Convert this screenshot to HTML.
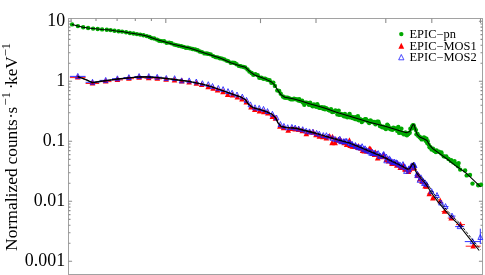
<!DOCTYPE html>
<html><head><meta charset="utf-8"><title>EPIC spectra</title>
<style>html,body{margin:0;padding:0;background:#fff;}body{width:485px;height:275px;overflow:hidden;font-family:"Liberation Serif",serif;}svg{display:block}</style>
</head><body>
<svg width="485" height="275" viewBox="0 0 485 275">
<defs><filter id="b" x="0" y="0" width="485" height="275" filterUnits="userSpaceOnUse"><feGaussianBlur stdDeviation="0.4"/></filter></defs>
<rect width="485" height="275" fill="#fff"/>
<g filter="url(#b)">
<g stroke="#a2a2a2" stroke-width="1" fill="none" shape-rendering="crispEdges">
<path d="M68.5,275 V18.5 H482.5 V275 M68.5,274.5 H482.5"/>
</g>
<g stroke="#8c8c8c" stroke-width="1.1" fill="none">
<path d="M68.5,261.3 h3.6 M482.5,261.3 h-3.6"/>
<path d="M68.5,243.2 h2 M482.5,243.2 h-2"/>
<path d="M68.5,232.7 h2 M482.5,232.7 h-2"/>
<path d="M68.5,225.2 h2 M482.5,225.2 h-2"/>
<path d="M68.5,219.4 h2 M482.5,219.4 h-2"/>
<path d="M68.5,214.6 h2 M482.5,214.6 h-2"/>
<path d="M68.5,210.6 h2 M482.5,210.6 h-2"/>
<path d="M68.5,207.1 h2 M482.5,207.1 h-2"/>
<path d="M68.5,204.0 h2 M482.5,204.0 h-2"/>
<path d="M68.5,201.3 h3.6 M482.5,201.3 h-3.6"/>
<path d="M68.5,183.2 h2 M482.5,183.2 h-2"/>
<path d="M68.5,172.7 h2 M482.5,172.7 h-2"/>
<path d="M68.5,165.2 h2 M482.5,165.2 h-2"/>
<path d="M68.5,159.4 h2 M482.5,159.4 h-2"/>
<path d="M68.5,154.6 h2 M482.5,154.6 h-2"/>
<path d="M68.5,150.6 h2 M482.5,150.6 h-2"/>
<path d="M68.5,147.1 h2 M482.5,147.1 h-2"/>
<path d="M68.5,144.0 h2 M482.5,144.0 h-2"/>
<path d="M68.5,141.3 h3.6 M482.5,141.3 h-3.6"/>
<path d="M68.5,123.2 h2 M482.5,123.2 h-2"/>
<path d="M68.5,112.7 h2 M482.5,112.7 h-2"/>
<path d="M68.5,105.2 h2 M482.5,105.2 h-2"/>
<path d="M68.5,99.4 h2 M482.5,99.4 h-2"/>
<path d="M68.5,94.6 h2 M482.5,94.6 h-2"/>
<path d="M68.5,90.6 h2 M482.5,90.6 h-2"/>
<path d="M68.5,87.1 h2 M482.5,87.1 h-2"/>
<path d="M68.5,84.0 h2 M482.5,84.0 h-2"/>
<path d="M68.5,81.3 h3.6 M482.5,81.3 h-3.6"/>
<path d="M68.5,63.2 h2 M482.5,63.2 h-2"/>
<path d="M68.5,52.7 h2 M482.5,52.7 h-2"/>
<path d="M68.5,45.2 h2 M482.5,45.2 h-2"/>
<path d="M68.5,39.4 h2 M482.5,39.4 h-2"/>
<path d="M68.5,34.6 h2 M482.5,34.6 h-2"/>
<path d="M68.5,30.6 h2 M482.5,30.6 h-2"/>
<path d="M68.5,27.1 h2 M482.5,27.1 h-2"/>
<path d="M68.5,24.0 h2 M482.5,24.0 h-2"/>
<path d="M68.5,21.3 h3.6 M482.5,21.3 h-3.6"/>
<path d="M71.1,18.5 v2.5"/>
<path d="M96.0,18.5 v2.5"/>
<path d="M117.1,18.5 v2.5"/>
<path d="M135.3,18.5 v2.5"/>
<path d="M151.4,18.5 v2.5"/>
<path d="M165.8,18.5 v4.6"/>
<path d="M260.5,18.5 v4.6"/>
<path d="M316.0,18.5 v4.6"/>
<path d="M385.8,18.5 v4.6"/>
<path d="M431.8,18.5 v4.6"/>
<path d="M480.5,18.5 v4.6"/>
</g>
<g font-family="Liberation Serif, serif" font-size="17.9" fill="#000" text-anchor="end">
<text x="65.1" y="26.4">10</text>
<text x="65.1" y="86.4">1</text>
<text x="65.1" y="146.4">0.1</text>
<text x="65.1" y="206.4">0.01</text>
<text x="65.1" y="266.4">0.001</text>
</g>
<g transform="translate(17,250.7) rotate(-90)" font-family="Liberation Serif, serif" font-size="17.3" fill="#000">
<text x="-0.2" y="0" font-size="17.5">Normalized</text>
<text x="86.3" y="0">counts</text>
<text x="131.9" y="0">·</text>
<text x="137.3" y="0">s</text>
<text x="145.3" y="-7.3" font-size="12.5">−1</text>
<text x="161.4" y="0">·</text>
<text x="165.7" y="0">keV</text>
<text x="194.5" y="-7.3" font-size="12.5">−1</text>
</g>
<g font-family="Liberation Serif, serif" font-size="11.6" fill="#000">
<text transform="translate(409.5,37.7) scale(1.075,1)">EPIC−pn</text>
<text transform="translate(409.5,49.5) scale(1.075,1)">EPIC−MOS1</text>
<text transform="translate(409.5,61.1) scale(1.075,1)">EPIC−MOS2</text>
</g>
<circle cx="401.3" cy="34.1" r="2.2" fill="#00a800"/>
<path d="M398.4,48.7 L404.2,48.7 L401.3,42.7Z" fill="#ff0000"/>
<path d="M398.7,59.8 L403.9,59.8 L401.3,54.5Z" fill="none" stroke="#1c1cff" stroke-width="0.8"/>
<g fill="#00a800">
<circle cx="72.1" cy="24.4" r="2.2"/>
<circle cx="77.9" cy="26.1" r="2.2"/>
<circle cx="83.2" cy="27.3" r="2.2"/>
<circle cx="88.1" cy="28.0" r="2.2"/>
<circle cx="93.1" cy="28.6" r="2.2"/>
<circle cx="97.7" cy="29.0" r="2.2"/>
<circle cx="102.1" cy="29.4" r="2.2"/>
<circle cx="106.8" cy="29.7" r="2.2"/>
<circle cx="110.6" cy="30.1" r="2.2"/>
<circle cx="114.5" cy="30.7" r="2.2"/>
<circle cx="118.6" cy="31.2" r="2.2"/>
<circle cx="122.1" cy="31.6" r="2.2"/>
<circle cx="126.1" cy="32.2" r="2.2"/>
<circle cx="129.9" cy="33.0" r="2.2"/>
<circle cx="133.5" cy="33.5" r="2.2"/>
<circle cx="136.9" cy="34.1" r="2.2"/>
<circle cx="140.2" cy="34.6" r="2.2"/>
<circle cx="143.5" cy="35.3" r="2.2"/>
<circle cx="146.8" cy="36.1" r="2.2"/>
<circle cx="149.6" cy="37.0" r="2.2"/>
<circle cx="151.7" cy="38.1" r="2.2"/>
<circle cx="154.2" cy="38.5" r="2.2"/>
<circle cx="157.0" cy="39.6" r="2.2"/>
<circle cx="159.2" cy="40.7" r="2.2"/>
<circle cx="161.6" cy="41.1" r="2.2"/>
<circle cx="164.1" cy="41.2" r="2.2"/>
<circle cx="166.6" cy="42.8" r="2.2"/>
<circle cx="169.2" cy="42.6" r="2.2"/>
<circle cx="171.5" cy="43.3" r="2.2"/>
<circle cx="174.2" cy="44.6" r="2.2"/>
<circle cx="176.3" cy="45.1" r="2.2"/>
<circle cx="178.7" cy="45.7" r="2.2"/>
<circle cx="181.3" cy="46.3" r="2.2"/>
<circle cx="183.6" cy="46.9" r="2.2"/>
<circle cx="185.8" cy="47.7" r="2.2"/>
<circle cx="187.9" cy="47.7" r="2.2"/>
<circle cx="190.3" cy="48.4" r="2.2"/>
<circle cx="192.7" cy="49.0" r="2.2"/>
<circle cx="195.2" cy="49.5" r="2.2"/>
<circle cx="197.6" cy="50.3" r="2.2"/>
<circle cx="199.8" cy="51.5" r="2.2"/>
<circle cx="202.0" cy="52.1" r="2.2"/>
<circle cx="204.4" cy="53.4" r="2.2"/>
<circle cx="206.8" cy="53.5" r="2.2"/>
<circle cx="208.5" cy="53.9" r="2.2"/>
<circle cx="210.7" cy="54.4" r="2.2"/>
<circle cx="213.2" cy="56.1" r="2.2"/>
<circle cx="215.5" cy="57.1" r="2.2"/>
<circle cx="217.6" cy="57.4" r="2.2"/>
<circle cx="219.9" cy="58.2" r="2.2"/>
<circle cx="222.0" cy="58.6" r="2.2"/>
<circle cx="224.3" cy="59.4" r="2.2"/>
<circle cx="226.5" cy="60.6" r="2.2"/>
<circle cx="228.1" cy="61.1" r="2.2"/>
<circle cx="230.7" cy="62.8" r="2.2"/>
<circle cx="232.9" cy="62.6" r="2.2"/>
<circle cx="234.7" cy="63.0" r="2.2"/>
<circle cx="236.6" cy="64.3" r="2.2"/>
<circle cx="239.0" cy="65.9" r="2.2"/>
<circle cx="240.8" cy="66.2" r="2.2"/>
<circle cx="243.3" cy="66.9" r="2.2"/>
<circle cx="245.2" cy="67.5" r="2.2"/>
<circle cx="247.5" cy="69.4" r="2.2"/>
<circle cx="249.4" cy="71.6" r="2.2"/>
<circle cx="251.6" cy="73.0" r="2.2"/>
<circle cx="253.3" cy="74.7" r="2.2"/>
<circle cx="255.4" cy="74.3" r="2.2"/>
<circle cx="257.7" cy="75.2" r="2.2"/>
<circle cx="259.3" cy="77.7" r="2.2"/>
<circle cx="261.3" cy="77.7" r="2.2"/>
<circle cx="263.4" cy="78.8" r="2.2"/>
<circle cx="265.1" cy="78.6" r="2.2"/>
<circle cx="267.3" cy="79.7" r="2.2"/>
<circle cx="269.6" cy="80.2" r="2.2"/>
<circle cx="271.4" cy="82.7" r="2.2"/>
<circle cx="273.3" cy="82.6" r="2.2"/>
<circle cx="274.9" cy="85.9" r="2.2"/>
<circle cx="277.3" cy="90.4" r="2.2"/>
<circle cx="279.2" cy="91.0" r="2.2"/>
<circle cx="280.7" cy="93.8" r="2.2"/>
<circle cx="282.9" cy="96.5" r="2.2"/>
<circle cx="284.4" cy="97.5" r="2.2"/>
<circle cx="286.1" cy="97.7" r="2.2"/>
<circle cx="287.7" cy="97.6" r="2.2"/>
<circle cx="289.4" cy="98.5" r="2.2"/>
<circle cx="290.9" cy="99.3" r="2.2"/>
<circle cx="292.9" cy="99.4" r="2.2"/>
<circle cx="294.0" cy="98.6" r="2.2"/>
<circle cx="295.5" cy="99.1" r="2.2"/>
<circle cx="297.1" cy="99.5" r="2.2"/>
<circle cx="298.5" cy="100.6" r="2.2"/>
<circle cx="299.2" cy="99.3" r="2.2"/>
<circle cx="300.5" cy="101.1" r="2.2"/>
<circle cx="302.1" cy="100.7" r="2.2"/>
<circle cx="302.9" cy="102.4" r="2.2"/>
<circle cx="304.3" cy="104.8" r="2.2"/>
<circle cx="305.3" cy="102.8" r="2.2"/>
<circle cx="306.7" cy="102.6" r="2.2"/>
<circle cx="308.1" cy="103.2" r="2.2"/>
<circle cx="308.9" cy="104.8" r="2.2"/>
<circle cx="310.1" cy="102.6" r="2.2"/>
<circle cx="311.4" cy="105.3" r="2.2"/>
<circle cx="312.7" cy="106.3" r="2.2"/>
<circle cx="313.9" cy="104.5" r="2.2"/>
<circle cx="315.2" cy="105.9" r="2.2"/>
<circle cx="316.2" cy="106.7" r="2.2"/>
<circle cx="317.3" cy="104.1" r="2.2"/>
<circle cx="318.2" cy="106.3" r="2.2"/>
<circle cx="319.2" cy="107.8" r="2.2"/>
<circle cx="320.5" cy="107.7" r="2.2"/>
<circle cx="321.9" cy="107.3" r="2.2"/>
<circle cx="323.2" cy="108.7" r="2.2"/>
<circle cx="324.3" cy="107.5" r="2.2"/>
<circle cx="325.0" cy="109.2" r="2.2"/>
<circle cx="326.2" cy="108.2" r="2.2"/>
<circle cx="327.5" cy="109.2" r="2.2"/>
<circle cx="328.8" cy="110.1" r="2.2"/>
<circle cx="329.8" cy="110.5" r="2.2"/>
<circle cx="331.0" cy="109.1" r="2.2"/>
<circle cx="332.2" cy="112.1" r="2.2"/>
<circle cx="333.2" cy="111.9" r="2.2"/>
<circle cx="334.0" cy="111.4" r="2.2"/>
<circle cx="335.4" cy="110.5" r="2.2"/>
<circle cx="336.7" cy="111.2" r="2.2"/>
<circle cx="337.4" cy="114.4" r="2.2"/>
<circle cx="338.7" cy="110.6" r="2.2"/>
<circle cx="339.5" cy="114.9" r="2.2"/>
<circle cx="341.0" cy="114.0" r="2.2"/>
<circle cx="342.0" cy="114.4" r="2.2"/>
<circle cx="343.2" cy="115.6" r="2.2"/>
<circle cx="344.1" cy="116.3" r="2.2"/>
<circle cx="344.9" cy="114.0" r="2.2"/>
<circle cx="345.9" cy="116.4" r="2.2"/>
<circle cx="347.3" cy="117.2" r="2.2"/>
<circle cx="348.6" cy="115.5" r="2.2"/>
<circle cx="349.6" cy="113.9" r="2.2"/>
<circle cx="350.3" cy="117.4" r="2.2"/>
<circle cx="351.4" cy="116.8" r="2.2"/>
<circle cx="352.6" cy="118.1" r="2.2"/>
<circle cx="353.4" cy="117.3" r="2.2"/>
<circle cx="355.0" cy="119.0" r="2.2"/>
<circle cx="355.8" cy="117.2" r="2.2"/>
<circle cx="357.1" cy="119.4" r="2.2"/>
<circle cx="357.9" cy="116.3" r="2.2"/>
<circle cx="358.9" cy="120.3" r="2.2"/>
<circle cx="359.9" cy="119.1" r="2.2"/>
<circle cx="360.8" cy="119.6" r="2.2"/>
<circle cx="361.8" cy="122.1" r="2.2"/>
<circle cx="363.0" cy="120.3" r="2.2"/>
<circle cx="364.0" cy="120.3" r="2.2"/>
<circle cx="365.1" cy="119.3" r="2.2"/>
<circle cx="365.9" cy="119.1" r="2.2"/>
<circle cx="367.2" cy="120.8" r="2.2"/>
<circle cx="368.3" cy="121.8" r="2.2"/>
<circle cx="369.2" cy="123.1" r="2.2"/>
<circle cx="370.5" cy="120.4" r="2.2"/>
<circle cx="371.2" cy="121.9" r="2.2"/>
<circle cx="372.2" cy="121.8" r="2.2"/>
<circle cx="373.3" cy="122.2" r="2.2"/>
<circle cx="374.2" cy="122.0" r="2.2"/>
<circle cx="375.5" cy="124.2" r="2.2"/>
<circle cx="376.5" cy="123.1" r="2.2"/>
<circle cx="377.1" cy="121.8" r="2.2"/>
<circle cx="378.4" cy="121.7" r="2.2"/>
<circle cx="379.0" cy="123.6" r="2.2"/>
<circle cx="379.9" cy="126.0" r="2.2"/>
<circle cx="381.0" cy="126.2" r="2.2"/>
<circle cx="382.3" cy="127.2" r="2.2"/>
<circle cx="383.4" cy="126.6" r="2.2"/>
<circle cx="384.2" cy="127.1" r="2.2"/>
<circle cx="384.9" cy="127.9" r="2.2"/>
<circle cx="385.9" cy="129.0" r="2.2"/>
<circle cx="387.3" cy="124.6" r="2.2"/>
<circle cx="388.3" cy="125.9" r="2.2"/>
<circle cx="389.2" cy="128.3" r="2.2"/>
<circle cx="389.9" cy="128.4" r="2.2"/>
<circle cx="390.8" cy="129.2" r="2.2"/>
<circle cx="392.0" cy="128.7" r="2.2"/>
<circle cx="392.5" cy="129.7" r="2.2"/>
<circle cx="393.4" cy="127.6" r="2.2"/>
<circle cx="394.6" cy="128.7" r="2.2"/>
<circle cx="395.4" cy="128.4" r="2.2"/>
<circle cx="396.9" cy="128.7" r="2.2"/>
<circle cx="397.3" cy="130.9" r="2.2"/>
<circle cx="398.3" cy="127.0" r="2.2"/>
<circle cx="399.2" cy="132.9" r="2.2"/>
<circle cx="400.1" cy="131.5" r="2.2"/>
<circle cx="401.4" cy="128.7" r="2.2"/>
<circle cx="402.0" cy="132.8" r="2.2"/>
<circle cx="403.1" cy="133.5" r="2.2"/>
<circle cx="404.1" cy="134.4" r="2.2"/>
<circle cx="405.1" cy="132.7" r="2.2"/>
<circle cx="405.8" cy="132.8" r="2.2"/>
<circle cx="406.9" cy="135.3" r="2.2"/>
<circle cx="407.9" cy="133.6" r="2.2"/>
<circle cx="408.3" cy="134.1" r="2.2"/>
<circle cx="409.7" cy="132.8" r="2.2"/>
<circle cx="410.4" cy="128.8" r="2.2"/>
<circle cx="411.6" cy="128.4" r="2.2"/>
<circle cx="412.2" cy="126.1" r="2.2"/>
<circle cx="413.0" cy="125.2" r="2.2"/>
<circle cx="413.7" cy="125.4" r="2.2"/>
<circle cx="414.7" cy="128.1" r="2.2"/>
<circle cx="415.9" cy="130.1" r="2.2"/>
<circle cx="416.5" cy="134.2" r="2.2"/>
<circle cx="417.5" cy="134.0" r="2.2"/>
<circle cx="418.2" cy="135.8" r="2.2"/>
<circle cx="419.5" cy="136.7" r="2.2"/>
<circle cx="420.2" cy="137.5" r="2.2"/>
<circle cx="421.3" cy="138.2" r="2.2"/>
<circle cx="421.7" cy="139.4" r="2.2"/>
<circle cx="422.8" cy="139.0" r="2.2"/>
<circle cx="423.9" cy="137.5" r="2.2"/>
<circle cx="424.7" cy="138.0" r="2.2"/>
<circle cx="425.7" cy="140.7" r="2.2"/>
<circle cx="426.4" cy="138.7" r="2.2"/>
<circle cx="427.2" cy="142.9" r="2.2"/>
<circle cx="427.7" cy="141.3" r="2.2"/>
<circle cx="428.6" cy="144.6" r="2.2"/>
<circle cx="429.6" cy="147.2" r="2.2"/>
<circle cx="430.4" cy="147.1" r="2.2"/>
<circle cx="431.6" cy="149.4" r="2.2"/>
<circle cx="432.4" cy="149.4" r="2.2"/>
<circle cx="433.0" cy="148.7" r="2.2"/>
<circle cx="433.9" cy="150.5" r="2.2"/>
<circle cx="434.7" cy="151.0" r="2.2"/>
<circle cx="435.9" cy="152.0" r="2.2"/>
<circle cx="441.4" cy="152.5" r="2.2"/>
<circle cx="446.3" cy="156.5" r="2.2"/>
<circle cx="451.2" cy="160.1" r="2.2"/>
<circle cx="454.5" cy="161.1" r="2.2"/>
<circle cx="458.6" cy="163.1" r="2.2"/>
<circle cx="460.2" cy="169.6" r="2.2"/>
<circle cx="465.1" cy="170.5" r="2.2"/>
<circle cx="466.7" cy="175.4" r="2.2"/>
<circle cx="470.0" cy="174.9" r="2.2"/>
<circle cx="472.5" cy="183.6" r="2.2"/>
<circle cx="478.2" cy="185.2" r="2.2"/>
<circle cx="481.0" cy="184.7" r="2.2"/>
<circle cx="436.5" cy="150.5" r="2.2"/>
<circle cx="438.9" cy="151.7" r="2.2"/>
<circle cx="441.3" cy="153.6" r="2.2"/>
<circle cx="443.7" cy="156.3" r="2.2"/>
<circle cx="446.1" cy="156.9" r="2.2"/>
<circle cx="448.5" cy="159.0" r="2.2"/>
<circle cx="450.9" cy="160.9" r="2.2"/>
<circle cx="453.3" cy="162.4" r="2.2"/>
<circle cx="455.7" cy="163.9" r="2.2"/>
<circle cx="458.1" cy="166.2" r="2.2"/>
</g>
<g stroke="#ff0000" stroke-width="0.9">
<path d="M69.9,77.6 H85.6"/>
<path d="M85.6,83.5 H99.2"/>
<path d="M99.6,81.6 H111.5"/>
<path d="M112,79.9 H123"/>
<path d="M123.5,78.7 H134"/>
<path d="M134.3,77.7 H144"/>
<path d="M144.3,78.2 H153.3"/>
<path d="M153.6,78.8 H162"/>
<path d="M427.3,193.9 H431.3"/>
<path d="M430.9,198.2 H434.9"/>
<path d="M438.2,200.9 H442.2"/>
<path d="M441.6,211.5 H447.6"/>
<path d="M447.7,218.1 H454.7"/>
<path d="M456.0,224.6 H465.0"/>
<path d="M465.7,246.2 H480.7"/>
</g>
<g fill="#ff0000">
<path d="M75.0,79.6 L80.6,79.6 L77.8,73.9Z"/>
<path d="M89.7,85.5 L95.3,85.5 L92.5,79.7Z"/>
<path d="M102.9,83.6 L108.5,83.6 L105.7,77.9Z"/>
<path d="M114.6,81.9 L120.2,81.9 L117.4,76.2Z"/>
<path d="M126.1,80.7 L131.7,80.7 L128.9,75.0Z"/>
<path d="M136.3,79.7 L141.9,79.7 L139.1,74.0Z"/>
<path d="M145.9,80.2 L151.5,80.2 L148.7,74.4Z"/>
<path d="M154.5,80.8 L160.1,80.8 L157.3,75.0Z"/>
<path d="M163.3,81.8 L168.9,81.8 L166.1,76.0Z"/>
<path d="M171.7,82.5 L177.3,82.5 L174.5,76.7Z"/>
<path d="M179.1,83.4 L184.7,83.4 L181.9,77.6Z"/>
<path d="M186.3,84.6 L191.9,84.6 L189.1,78.9Z"/>
<path d="M193.6,85.7 L199.2,85.7 L196.4,80.0Z"/>
<path d="M198.9,87.1 L204.5,87.1 L201.7,81.4Z"/>
<path d="M205.4,89.2 L211.0,89.2 L208.2,83.4Z"/>
<path d="M210.4,90.7 L216.0,90.7 L213.2,85.0Z"/>
<path d="M214.8,92.6 L220.4,92.6 L217.6,86.8Z"/>
<path d="M220.2,94.2 L225.8,94.2 L223.0,88.4Z"/>
<path d="M224.9,96.9 L230.5,96.9 L227.7,91.2Z"/>
<path d="M229.7,97.5 L235.3,97.5 L232.5,91.7Z"/>
<path d="M234.6,99.6 L240.2,99.6 L237.4,93.9Z"/>
<path d="M239.2,101.5 L244.8,101.5 L242.0,95.8Z"/>
<path d="M243.5,104.5 L249.1,104.5 L246.3,98.8Z"/>
<path d="M248.2,109.4 L253.8,109.4 L251.0,103.7Z"/>
<path d="M252.0,112.0 L257.6,112.0 L254.8,106.3Z"/>
<path d="M256.7,113.4 L262.3,113.4 L259.5,107.6Z"/>
<path d="M261.1,114.3 L266.7,114.3 L263.9,108.5Z"/>
<path d="M265.1,115.4 L270.7,115.4 L267.9,109.7Z"/>
<path d="M269.6,118.9 L275.2,118.9 L272.4,113.2Z"/>
<path d="M272.7,120.7 L278.3,120.7 L275.5,114.9Z"/>
<path d="M277.1,128.8 L282.7,128.8 L279.9,123.0Z"/>
<path d="M280.8,130.2 L286.4,130.2 L283.6,124.5Z"/>
<path d="M285.4,132.8 L291.0,132.8 L288.2,127.0Z"/>
<path d="M289.1,131.1 L294.7,131.1 L291.9,125.4Z"/>
<path d="M292.4,131.6 L298.0,131.6 L295.2,125.9Z"/>
<path d="M296.0,132.0 L301.6,132.0 L298.8,126.3Z"/>
<path d="M299.5,133.2 L305.1,133.2 L302.3,127.5Z"/>
<path d="M303.5,136.2 L309.1,136.2 L306.3,130.5Z"/>
<path d="M307.1,134.6 L312.7,134.6 L309.9,128.9Z"/>
<path d="M310.6,134.8 L316.2,134.8 L313.4,129.0Z"/>
<path d="M313.2,137.3 L318.8,137.3 L316.0,131.6Z"/>
<path d="M316.6,138.7 L322.2,138.7 L319.4,132.9Z"/>
<path d="M320.0,139.2 L325.6,139.2 L322.8,133.5Z"/>
<path d="M323.6,140.4 L329.2,140.4 L326.4,134.7Z"/>
<path d="M326.8,138.6 L332.4,138.6 L329.6,132.9Z"/>
<path d="M329.7,139.4 L335.3,139.4 L332.5,133.7Z"/>
<path d="M332.3,145.3 L337.9,145.3 L335.1,139.6Z"/>
<path d="M335.5,142.5 L341.1,142.5 L338.3,136.8Z"/>
<path d="M338.9,143.9 L344.5,143.9 L341.7,138.1Z"/>
<path d="M341.4,144.2 L347.0,144.2 L344.2,138.5Z"/>
<path d="M343.9,147.0 L349.5,147.0 L346.7,141.3Z"/>
<path d="M347.4,148.0 L353.0,148.0 L350.2,142.3Z"/>
<path d="M349.5,148.7 L355.1,148.7 L352.3,143.0Z"/>
<path d="M352.4,148.7 L358.0,148.7 L355.2,142.9Z"/>
<path d="M355.7,148.7 L361.3,148.7 L358.5,142.9Z"/>
<path d="M358.1,150.8 L363.7,150.8 L360.9,145.0Z"/>
<path d="M361.5,153.4 L367.1,153.4 L364.3,147.7Z"/>
<path d="M364.2,153.6 L369.8,153.6 L367.0,147.9Z"/>
<path d="M366.5,151.2 L372.1,151.2 L369.3,145.4Z"/>
<path d="M369.8,156.1 L375.4,156.1 L372.6,150.3Z"/>
<path d="M372.6,154.9 L378.2,154.9 L375.4,149.2Z"/>
<path d="M374.9,160.5 L380.5,160.5 L377.7,154.7Z"/>
<path d="M378.3,159.2 L383.9,159.2 L381.1,153.5Z"/>
<path d="M380.7,159.0 L386.3,159.0 L383.5,153.3Z"/>
<path d="M383.6,162.0 L389.2,162.0 L386.4,156.2Z"/>
<path d="M385.8,163.4 L391.4,163.4 L388.6,157.7Z"/>
<path d="M389.2,164.4 L394.8,164.4 L392.0,158.6Z"/>
<path d="M392.0,165.8 L397.6,165.8 L394.8,160.0Z"/>
<path d="M394.7,166.0 L400.3,166.0 L397.5,160.3Z"/>
<path d="M397.5,170.0 L403.1,170.0 L400.3,164.2Z"/>
<path d="M400.7,168.2 L406.3,168.2 L403.5,162.4Z"/>
<path d="M402.8,171.7 L408.4,171.7 L405.6,165.9Z"/>
<path d="M405.6,174.0 L411.2,174.0 L408.4,168.2Z"/>
<path d="M408.5,168.7 L414.1,168.7 L411.3,163.0Z"/>
<path d="M411.2,170.0 L416.8,170.0 L414.0,164.2Z"/>
<path d="M414.4,177.7 L420.0,177.7 L417.2,172.0Z"/>
<path d="M417.0,181.5 L422.6,181.5 L419.8,175.8Z"/>
<path d="M420.1,183.7 L425.7,183.7 L422.9,177.9Z"/>
<path d="M422.4,188.6 L428.0,188.6 L425.2,182.9Z"/>
<path d="M329.3,145.2 L334.9,145.2 L332.1,139.5Z"/>
<path d="M333.2,142.4 L338.8,142.4 L336.0,136.6Z"/>
<path d="M337.5,142.5 L343.1,142.5 L340.3,136.8Z"/>
<path d="M341.5,145.2 L347.1,145.2 L344.3,139.4Z"/>
<path d="M346.6,143.0 L352.2,143.0 L349.4,137.2Z"/>
<path d="M351.2,149.1 L356.8,149.1 L354.0,143.3Z"/>
<path d="M355.0,149.9 L360.6,149.9 L357.8,144.2Z"/>
<path d="M359.8,152.9 L365.4,152.9 L362.6,147.2Z"/>
<path d="M363.3,152.8 L368.9,152.8 L366.1,147.1Z"/>
<path d="M367.8,151.6 L373.4,151.6 L370.6,145.9Z"/>
<path d="M371.8,157.0 L377.4,157.0 L374.6,151.2Z"/>
<path d="M376.9,158.4 L382.5,158.4 L379.7,152.7Z"/>
<path d="M381.1,157.8 L386.7,157.8 L383.9,152.0Z"/>
<path d="M385.2,162.0 L390.8,162.0 L388.0,156.3Z"/>
<path d="M389.2,166.0 L394.8,166.0 L392.0,160.2Z"/>
<path d="M394.0,167.8 L399.6,167.8 L396.8,162.0Z"/>
<path d="M398.3,169.4 L403.9,169.4 L401.1,163.7Z"/>
<path d="M402.0,171.6 L407.6,171.6 L404.8,165.8Z"/>
<path d="M406.7,172.2 L412.3,172.2 L409.5,166.5Z"/>
<path d="M410.7,170.7 L416.3,170.7 L413.5,165.0Z"/>
<path d="M415.8,177.7 L421.4,177.7 L418.6,172.0Z"/>
<path d="M419.2,183.8 L424.8,183.8 L422.0,178.0Z"/>
<path d="M423.8,188.8 L429.4,188.8 L426.6,183.1Z"/>
<path d="M426.5,196.2 L432.1,196.2 L429.3,190.5Z"/>
<path d="M430.1,200.5 L435.7,200.5 L432.9,194.8Z"/>
<path d="M437.4,203.2 L443.0,203.2 L440.2,197.5Z"/>
<path d="M441.8,213.8 L447.4,213.8 L444.6,208.1Z"/>
<path d="M448.4,220.4 L454.0,220.4 L451.2,214.7Z"/>
<path d="M457.7,226.9 L463.3,226.9 L460.5,221.2Z"/>
<path d="M470.4,248.5 L476.0,248.5 L473.2,242.8Z"/>
</g>
<g stroke="#1c1cff" stroke-width="0.9">
<path d="M69.9,76.4 H85.6"/>
<path d="M85.6,82.3 H99.2"/>
<path d="M99.6,80.4 H111.5"/>
<path d="M112,78.7 H123"/>
<path d="M123.5,77.5 H134"/>
<path d="M134.3,76.5 H144"/>
<path d="M144.3,76.6 H153.3"/>
<path d="M153.6,77.2 H162"/>
<path d="M429.6,191.6 H433.6"/>
<path d="M435.0,195.5 H439.0"/>
<path d="M438.5,203.0 H443.5"/>
<path d="M442.5,206.6 H448.5"/>
<path d="M448.5,216.1 H455.5"/>
<path d="M455.1,226.6 H464.1"/>
<path d="M464.8,241.6 H480.4"/>
<path d="M480.3,228.7 V244"/>
</g>
<g fill="#1c1cff" fill-opacity="0.15" stroke="#1c1cff" stroke-width="0.8">
<path d="M75.4,78.4 L80.2,78.4 L77.8,73.4Z"/>
<path d="M90.1,84.3 L94.9,84.3 L92.5,79.3Z"/>
<path d="M103.3,82.4 L108.1,82.4 L105.7,77.4Z"/>
<path d="M115.0,80.7 L119.8,80.7 L117.4,75.8Z"/>
<path d="M126.5,79.5 L131.3,79.5 L128.9,74.6Z"/>
<path d="M136.7,78.5 L141.5,78.5 L139.1,73.5Z"/>
<path d="M146.4,78.6 L151.2,78.6 L148.8,73.6Z"/>
<path d="M154.8,79.2 L159.6,79.2 L157.2,74.3Z"/>
<path d="M163.9,80.4 L168.7,80.4 L166.3,75.5Z"/>
<path d="M172.2,80.6 L177.0,80.6 L174.6,75.7Z"/>
<path d="M179.2,82.8 L184.0,82.8 L181.6,77.9Z"/>
<path d="M186.8,82.8 L191.6,82.8 L189.2,77.9Z"/>
<path d="M193.9,83.9 L198.7,83.9 L196.3,79.0Z"/>
<path d="M200.0,85.6 L204.8,85.6 L202.4,80.7Z"/>
<path d="M205.9,86.6 L210.7,86.6 L208.3,81.7Z"/>
<path d="M210.1,88.4 L214.9,88.4 L212.5,83.5Z"/>
<path d="M215.9,90.3 L220.7,90.3 L218.3,85.4Z"/>
<path d="M220.7,91.5 L225.5,91.5 L223.1,86.6Z"/>
<path d="M225.6,93.5 L230.4,93.5 L228.0,88.6Z"/>
<path d="M229.7,95.1 L234.5,95.1 L232.1,90.2Z"/>
<path d="M234.6,96.9 L239.4,96.9 L237.0,92.0Z"/>
<path d="M239.9,99.0 L244.7,99.0 L242.3,94.1Z"/>
<path d="M244.1,102.3 L248.9,102.3 L246.5,97.4Z"/>
<path d="M248.0,106.8 L252.8,106.8 L250.4,101.9Z"/>
<path d="M252.6,109.8 L257.4,109.8 L255.0,104.8Z"/>
<path d="M256.8,110.4 L261.6,110.4 L259.2,105.4Z"/>
<path d="M261.1,111.3 L265.9,111.3 L263.5,106.4Z"/>
<path d="M265.1,113.5 L269.9,113.5 L267.5,108.6Z"/>
<path d="M270.0,116.2 L274.8,116.2 L272.4,111.3Z"/>
<path d="M274.1,119.9 L278.9,119.9 L276.5,115.0Z"/>
<path d="M278.0,126.5 L282.8,126.5 L280.4,121.5Z"/>
<path d="M281.5,128.3 L286.3,128.3 L283.9,123.4Z"/>
<path d="M285.3,129.7 L290.1,129.7 L287.7,124.7Z"/>
<path d="M289.5,129.3 L294.3,129.3 L291.9,124.4Z"/>
<path d="M292.8,130.0 L297.6,130.0 L295.2,125.1Z"/>
<path d="M296.3,130.9 L301.1,130.9 L298.7,126.0Z"/>
<path d="M300.3,131.6 L305.1,131.6 L302.7,126.7Z"/>
<path d="M303.8,133.1 L308.6,133.1 L306.2,128.2Z"/>
<path d="M307.0,133.8 L311.8,133.8 L309.4,128.9Z"/>
<path d="M310.4,134.1 L315.2,134.1 L312.8,129.2Z"/>
<path d="M314.2,135.3 L319.0,135.3 L316.6,130.4Z"/>
<path d="M316.9,136.1 L321.7,136.1 L319.3,131.2Z"/>
<path d="M320.9,137.6 L325.7,137.6 L323.3,132.6Z"/>
<path d="M324.0,137.7 L328.8,137.7 L326.4,132.7Z"/>
<path d="M326.3,138.9 L331.1,138.9 L328.7,134.0Z"/>
<path d="M330.0,140.3 L334.8,140.3 L332.4,135.4Z"/>
<path d="M332.6,141.3 L337.4,141.3 L335.0,136.4Z"/>
<path d="M336.2,142.2 L341.0,142.2 L338.6,137.2Z"/>
<path d="M338.7,143.7 L343.5,143.7 L341.1,138.8Z"/>
<path d="M341.4,143.7 L346.2,143.7 L343.8,138.8Z"/>
<path d="M344.3,143.5 L349.1,143.5 L346.7,138.6Z"/>
<path d="M347.1,145.0 L351.9,145.0 L349.5,140.0Z"/>
<path d="M349.8,146.6 L354.6,146.6 L352.2,141.7Z"/>
<path d="M353.4,148.6 L358.2,148.6 L355.8,143.7Z"/>
<path d="M355.9,148.9 L360.7,148.9 L358.3,144.0Z"/>
<path d="M358.4,149.8 L363.2,149.8 L360.8,144.9Z"/>
<path d="M361.6,151.6 L366.4,151.6 L364.0,146.7Z"/>
<path d="M364.0,152.7 L368.8,152.7 L366.4,147.8Z"/>
<path d="M367.4,153.9 L372.2,153.9 L369.8,149.0Z"/>
<path d="M370.0,154.2 L374.8,154.2 L372.4,149.3Z"/>
<path d="M372.1,155.6 L376.9,155.6 L374.5,150.7Z"/>
<path d="M375.8,155.5 L380.6,155.5 L378.2,150.6Z"/>
<path d="M377.9,158.2 L382.7,158.2 L380.3,153.3Z"/>
<path d="M381.3,156.4 L386.1,156.4 L383.7,151.5Z"/>
<path d="M383.9,159.0 L388.7,159.0 L386.3,154.0Z"/>
<path d="M387.0,160.8 L391.8,160.8 L389.4,155.9Z"/>
<path d="M389.2,163.7 L394.0,163.7 L391.6,158.8Z"/>
<path d="M391.8,163.9 L396.6,163.9 L394.2,159.0Z"/>
<path d="M394.8,165.2 L399.6,165.2 L397.2,160.3Z"/>
<path d="M397.8,167.2 L402.6,167.2 L400.2,162.3Z"/>
<path d="M400.6,166.5 L405.4,166.5 L403.0,161.6Z"/>
<path d="M403.6,173.4 L408.4,173.4 L406.0,168.5Z"/>
<path d="M406.4,170.9 L411.2,170.9 L408.8,165.9Z"/>
<path d="M409.5,169.3 L414.3,169.3 L411.9,164.4Z"/>
<path d="M411.7,167.3 L416.5,167.3 L414.1,162.4Z"/>
<path d="M414.9,177.6 L419.7,177.6 L417.3,172.6Z"/>
<path d="M417.2,182.3 L422.0,182.3 L419.6,177.4Z"/>
<path d="M420.5,183.0 L425.3,183.0 L422.9,178.1Z"/>
<path d="M422.7,184.8 L427.5,184.8 L425.1,179.9Z"/>
<path d="M337.4,141.1 L342.2,141.1 L339.8,136.2Z"/>
<path d="M341.1,143.7 L345.9,143.7 L343.5,138.8Z"/>
<path d="M343.5,143.4 L348.3,143.4 L345.9,138.4Z"/>
<path d="M347.3,145.3 L352.1,145.3 L349.7,140.3Z"/>
<path d="M349.7,146.4 L354.5,146.4 L352.1,141.4Z"/>
<path d="M353.0,147.4 L357.8,147.4 L355.4,142.5Z"/>
<path d="M356.5,149.8 L361.3,149.8 L358.9,144.9Z"/>
<path d="M359.7,148.6 L364.5,148.6 L362.1,143.7Z"/>
<path d="M362.7,150.7 L367.5,150.7 L365.1,145.8Z"/>
<path d="M365.8,153.0 L370.6,153.0 L368.2,148.1Z"/>
<path d="M368.8,155.3 L373.6,155.3 L371.2,150.4Z"/>
<path d="M371.6,155.3 L376.4,155.3 L374.0,150.3Z"/>
<path d="M374.7,155.9 L379.5,155.9 L377.1,151.0Z"/>
<path d="M377.5,158.2 L382.3,158.2 L379.9,153.2Z"/>
<path d="M380.8,157.2 L385.6,157.2 L383.2,152.3Z"/>
<path d="M383.8,162.8 L388.6,162.8 L386.2,157.9Z"/>
<path d="M387.6,162.3 L392.4,162.3 L390.0,157.3Z"/>
<path d="M390.6,164.6 L395.4,164.6 L393.0,159.7Z"/>
<path d="M393.7,164.7 L398.5,164.7 L396.1,159.7Z"/>
<path d="M396.5,166.7 L401.3,166.7 L398.9,161.8Z"/>
<path d="M399.5,168.8 L404.3,168.8 L401.9,163.8Z"/>
<path d="M402.6,169.3 L407.4,169.3 L405.0,164.4Z"/>
<path d="M406.1,172.0 L410.9,172.0 L408.5,167.1Z"/>
<path d="M409.1,167.8 L413.9,167.8 L411.5,162.9Z"/>
<path d="M412.2,167.7 L417.0,167.7 L414.6,162.8Z"/>
<path d="M414.8,176.0 L419.6,176.0 L417.2,171.1Z"/>
<path d="M418.5,179.7 L423.3,179.7 L420.9,174.8Z"/>
<path d="M421.6,185.5 L426.4,185.5 L424.0,180.5Z"/>
<path d="M424.3,186.7 L429.1,186.7 L426.7,181.8Z"/>
<path d="M429.2,193.6 L434.0,193.6 L431.6,188.6Z"/>
<path d="M434.6,197.5 L439.4,197.5 L437.0,192.5Z"/>
<path d="M438.6,205.0 L443.4,205.0 L441.0,200.0Z"/>
<path d="M443.1,208.6 L447.9,208.6 L445.5,203.6Z"/>
<path d="M449.6,218.1 L454.4,218.1 L452.0,213.1Z"/>
<path d="M457.2,228.6 L462.0,228.6 L459.6,223.6Z"/>
<path d="M470.2,243.6 L475.0,243.6 L472.6,238.6Z"/>
<path d="M477.9,239.5 L482.7,239.5 L480.3,234.5Z"/>
</g>
<g fill="none" stroke="#000" stroke-linejoin="round">
<path d="M72.1,24.4 L77.9,26.1 L83.2,27.3 L88.1,28.0 L93.1,28.6 L97.7,29.0 L102.1,29.4 L106.8,29.7 L110.6,30.1 L114.5,30.7 L118.6,31.2 L122.1,31.6 L126.1,32.2 L129.9,33.0 L133.5,33.5 L136.9,34.1 L140.2,34.6 L143.5,35.3 L146.8,36.1 L156.5,39.5 L173.0,44.3 L189.5,48.1 L206.0,53.4 L220.0,58.0 L231.4,63.1 L240.5,65.9 L245.5,67.3 L249.6,71.4 L254.5,75.0 L260.0,76.9 L266.6,79.6 L271.5,82.0 L274.5,85.0 L277.0,89.0 L280.6,94.4 L284.7,97.2 L293.0,98.8 L301.2,101.0 L309.5,103.8 L317.7,105.9 L326.0,108.4 L336.5,112.3 L353.0,117.2 L369.5,122.2 L386.0,126.5 L399.8,130.8 L406.4,132.7 L409.7,131.4 L411.3,128.1 L413.0,124.5 L414.1,124.8 L415.5,129.7 L417.1,134.4 L419.6,137.0 L423.7,138.8 L427.0,140.5 L429.5,145.0 L432.8,148.7 L440.9,154.7 L449.5,160.8 L456.4,166.3 L465.9,172.9 L480.6,186.8" stroke-width="1.05"/>
<path d="M77.8,76.7 L86.4,79.8 L92.4,82.6 L99.6,81.5 L109.5,80.2 L117.7,79.0 L129.3,77.8 L139.1,76.8 L149.0,77.0 L157.7,77.6 L166.3,78.5 L174.2,79.5 L182.0,80.5 L188.9,81.4 L196.0,82.8 L202.1,84.2 L207.9,85.6 L216.5,88.5 L224.7,91.4 L233.0,94.4 L241.2,97.2 L245.4,99.7 L248.7,104.6 L252.8,107.6 L261.0,109.8 L266.6,111.9 L272.4,114.5 L275.7,118.1 L278.1,123.1 L281.4,126.7 L286.4,127.7 L296.3,128.4 L304.5,130.5 L314.4,133.0 L322.7,135.5" stroke-width="1.3"/>
<path d="M322.7,135.5 L330.9,138.0 L339.9,140.4 L349.8,143.3 L359.7,147.3 L369.6,151.4 L379.5,155.5 L385.0,158.0 L393.2,162.1 L401.5,166.1 L407.3,169.2 L409.7,168.8 L411.4,165.7 L413.0,163.2 L414.4,165.7 L415.5,171.0 L417.2,173.9 L420.5,178.0 L424.6,182.5 L427.9,187.1 L430.4,191.5 L437.8,201.6 L445.6,210.9 L451.8,217.9 L457.7,223.5 L467.6,236.1 L479.2,250.5" stroke-width="1.05"/>
<path d="M77.8,76.7 L86.4,79.8 L92.4,82.6 L99.6,81.5 L109.5,80.2 L117.7,79.0 L129.3,77.8 L139.1,76.8 L149.0,77.0 L157.7,77.6 L166.3,78.4 L174.2,79.4 L182.0,80.4 L188.9,81.3 L196.0,82.7 L202.1,84.1 L207.9,85.5 L216.5,88.4 L224.7,91.3 L233.0,94.3 L241.2,97.1 L245.4,99.6 L248.7,104.5 L252.8,107.5 L261.0,109.6 L266.6,111.7 L272.4,114.2 L275.7,117.8 L278.1,122.8 L281.4,126.3 L286.4,127.3 L296.3,127.9 L304.5,130.0 L314.4,132.5 L322.7,135.0 L331.0,137.5 L340.0,139.9 L349.9,142.8 L359.8,146.7 L369.7,150.8 L379.6,154.9 L385.2,157.4 L393.4,161.5 L401.7,165.5 L407.5,168.6 L409.9,168.2 L411.7,165.1 L413.4,162.5 L414.9,165.0 L416.0,170.3 L417.8,173.1 L421.3,177.1 L425.7,181.5 L429.0,186.1 L431.5,190.5 L438.9,200.6 L446.7,209.9 L452.9,216.9 L458.9,222.4 L468.8,235.0 L480.4,249.4" stroke-width="0.9" stroke-dasharray="3,1.5"/>
</g>
</g>
</svg>
</body></html>
